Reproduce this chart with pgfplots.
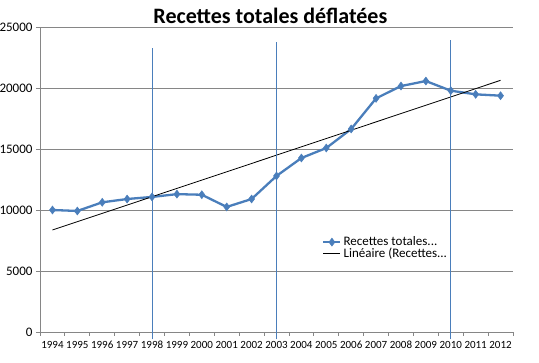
\documentclass[border=0pt]{standalone}
\usepackage{pgfplots}
\pgfplotsset{compat=1.18}
\usepackage{fontspec}
\setmainfont{Carlito}
\definecolor{serie}{HTML}{4A7EBB}
\definecolor{vline}{HTML}{4A7EBB}
\definecolor{axgray}{HTML}{868686}
\begin{document}
\begin{tikzpicture}
\begin{axis}[
  scale only axis,
  width=473pt, height=305pt,
  xmin=-0.5, xmax=18.5,
  ymin=0, ymax=25000,
  axis x line=bottom, axis y line=left,
  axis line style={-, draw=axgray, line width=0.8pt},
  clip=false,
  ytick={0,5000,10000,15000,20000,25000},
  ymajorgrids,
  grid style={draw=axgray, line width=0.8pt},
  yticklabel style={font=\fontsize{13}{15}\selectfont, xshift=0pt},
  /pgf/number format/assume math mode=true,
  /pgf/number format/set thousands separator={},
  scaled y ticks=false,
  xtick={0,...,18},
  xticklabels={1994,1995,1996,1997,1998,1999,2000,2001,2002,2003,2004,2005,2006,2007,2008,2009,2010,2011,2012},
  xticklabel style={font=\fontsize{11}{13}\selectfont, text height=8pt, text depth=1pt, inner xsep=0pt, yshift=-1pt},
  xtick style={draw=none},
  extra x ticks={-0.5,0.5,...,18.5},
  extra x tick labels={},
  extra x tick style={xtick style={draw=axgray, line width=0.8pt}, major tick length=4pt, tick align=outside},
  ytick style={draw=axgray, line width=0.8pt},
  major tick length=4pt, tick align=outside,
  title={\textbf{Recettes totales déflatées}},
  title style={font=\fontsize{22}{24}\selectfont, at={(0.487,1)}, anchor=south, yshift=-6pt},
  legend style={at={(0.59,0.275)}, anchor=west, draw=none, fill=none,
    font=\fontsize{13}{14}\selectfont, row sep=-3pt},
  legend cell align=left,
]
\addplot[serie, line width=2.3pt, mark=diamond*, mark size=4pt, mark options={fill=serie, draw=serie, line width=0.5pt}] coordinates {
(0,10000) (1,9920) (2,10630) (3,10900) (4,11070) (5,11300) (6,11250) (7,10250) (8,10900) (9,12790)
(10,14260) (11,15080) (12,16640) (13,19150) (14,20160) (15,20570) (16,19780) (17,19480) (18,19370)
};
\addlegendentry{Recettes totales...}
\addplot[black, line width=0.8pt] coordinates {(0,8360) (18,20630)};
\addlegendentry{Linéaire (Recettes...}
\addplot[vline, line width=0.9pt, forget plot] coordinates {(4,-600) (4,23300)};
\addplot[vline, line width=0.9pt, forget plot] coordinates {(9,-600) (9,23770)};
\addplot[vline, line width=0.9pt, forget plot] coordinates {(16,-600) (16,23930)};
\end{axis}
\pgfresetboundingbox
\path[use as bounding box] (-40pt,-31pt) rectangle (499pt,332pt);
\end{tikzpicture}
\end{document}
